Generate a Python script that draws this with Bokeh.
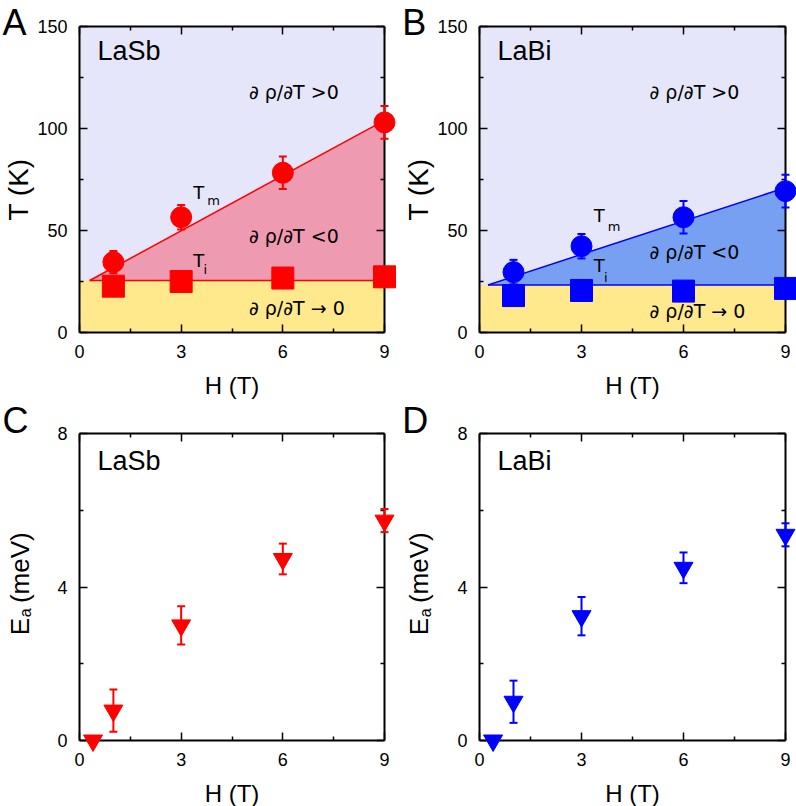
import math
from bokeh.plotting import figure
from bokeh.models import (ColumnDataSource, Range1d, FixedTicker, LinearAxis, Label,
                          Whisker, TeeHead)
from bokeh.layouts import column, row
from bokeh.embed import file_html
from bokeh.resources import INLINE

# ---------------- data ----------------
H_LIM = [0, 9]
T_LIM = [0, 150]
E_LIM = [0, 8]
H_TICKS = [0, 3, 6, 9]
H_MINOR = [1.5, 4.5, 7.5]
T_TICKS = [0, 50, 100, 150]
T_MINOR = [25, 75, 125]
E_TICKS = [0, 4, 8]
E_MINOR = [2, 6]

H = [1, 3, 6, 9]
lasb_tm = [34.5, 56.5, 78.3, 103]
lasb_tm_err = [5.5, 6, 8, 8]
lasb_ti = [22.7, 25.0, 26.7, 27.3]
labi_tm = [29.6, 42.3, 56.5, 69.3]
labi_tm_err = [6, 6, 8, 8]
labi_ti = [18.1, 20.6, 20.3, 21.6]

lasb_bound_h = [0.3, 9]
lasb_bound_tm = [25.5, 104]
lasb_bound_ti = 25.5
labi_bound_h = [0.25, 9]
labi_bound_tm = [23.3, 71]
labi_bound_ti = 23.3

H_ea = [0.4, 1, 3, 6, 9]
lasb_ea = [0, 0.78, 3.0, 4.73, 5.73]
lasb_ea_err = [0, 0.55, 0.5, 0.4, 0.3]
labi_ea = [0, 1.01, 3.24, 4.5, 5.36]
labi_ea_err = [0, 0.55, 0.5, 0.4, 0.3]

LAVENDER = "#E6E6FA"
YELLOW = "#FFE98C"
PINK = "#EE9AB0"
LBLUE = "#78A0F2"
RED = "#FF0000"
BLUE = "#0000FF"

SANS = "Liberation Sans"
DV = "DejaVu Sans"


def style_axis(ax, ticks, show):
    ax.axis_line_color = "black"
    ax.axis_line_width = 2
    ax.major_tick_line_color = "black"
    ax.major_tick_line_width = 1.5
    ax.minor_tick_line_color = "black"
    ax.minor_tick_line_width = 1.5
    ax.major_tick_in = 8
    ax.major_tick_out = 0
    ax.minor_tick_in = 4
    ax.minor_tick_out = 0
    ax.major_label_text_font = SANS
    ax.major_label_text_font_size = "18px"
    ax.major_label_text_color = "black"
    ax.major_label_standoff = 12
    if not show:
        ax.major_label_overrides = {float(t): "" for t in ticks}


def base_fig(cw, ch, left, right, top, bottom, ylim, yticks, yminor):
    # frame of the data box in canvas pixels -> ranges that cover the whole canvas
    kx = (cw - left - right) / (H_LIM[1] - H_LIM[0])
    ky = (ch - top - bottom) / (ylim[1] - ylim[0])
    xr = Range1d(H_LIM[0] - left / kx, H_LIM[1] + right / kx)
    yr = Range1d(ylim[0] - bottom / ky, ylim[1] + top / ky)
    p = figure(frame_width=cw, frame_height=ch, x_range=xr, y_range=yr,
               x_axis_type=None, y_axis_type=None, output_backend="svg",
               toolbar_location=None, min_border=0)
    p.background_fill_color = "white"
    p.border_fill_color = "white"
    p.outline_line_color = None
    for loc, fixed, show in (("below", ylim[0], True), ("above", ylim[1], False)):
        ax = LinearAxis(ticker=FixedTicker(ticks=H_TICKS, minor_ticks=H_MINOR),
                        fixed_location=fixed, bounds=(H_LIM[0], H_LIM[1]))
        style_axis(ax, H_TICKS, show)
        p.add_layout(ax, loc)
    for loc, fixed, show in (("left", H_LIM[0], True), ("right", H_LIM[1], False)):
        ax = LinearAxis(ticker=FixedTicker(ticks=yticks, minor_ticks=yminor),
                        fixed_location=fixed, bounds=(ylim[0], ylim[1]))
        style_axis(ax, yticks, show)
        p.add_layout(ax, loc)
    return p


def lab(p, x, y, text, size, font=SANS, align="left", angle=0.0):
    p.add_layout(Label(x=x, y=y, text=text, text_font=font, text_font_size=f"{size}px",
                       text_align=align, text_baseline="middle", angle=angle,
                       text_color="black"))


def whisk(p, xs, vals, errs, color):
    src = ColumnDataSource(dict(x=xs, upper=[v + e for v, e in zip(vals, errs)],
                                lower=[v - e for v, e in zip(vals, errs)]))
    w = Whisker(source=src, base="x", upper="upper", lower="lower", line_color=color,
                line_width=2, level="overlay",
                upper_head=TeeHead(size=8, line_color=color, line_width=2),
                lower_head=TeeHead(size=8, line_color=color, line_width=2))
    p.add_layout(w)


def phase_panel(cw, left, right, letter, name, tm, tm_err, ti, bh, btm, bti, fill, color, txt):
    p = base_fig(cw, 400, left, right, 26, 68, T_LIM, T_TICKS, T_MINOR)
    p.quad(left=H_LIM[0], right=H_LIM[1], bottom=T_LIM[0], top=T_LIM[1],
           fill_color=LAVENDER, line_color=None)
    p.quad(left=H_LIM[0], right=H_LIM[1], bottom=T_LIM[0], top=bti,
           fill_color=YELLOW, line_color=None)
    p.patch(x=bh + [bh[-1]], y=btm + [bti], fill_color=fill, line_color=None)
    p.line(x=bh, y=btm, line_color=color, line_width=1.5)
    p.line(x=bh, y=[bti, bti], line_color=color, line_width=1.5)
    whisk(p, H, tm, tm_err, color)
    r1 = p.scatter(x=H, y=tm, size=21, marker="circle", fill_color=color, line_color=color)
    r2 = p.scatter(x=H, y=ti, size=22, marker="square", fill_color=color, line_color=color)
    r1.level = "overlay"
    r2.level = "overlay"
    # texts
    lab(p, -2.27, 151.8, letter, 36)
    lab(p, 0.53, 138.0, name, 27)
    lab(p, -1.79, 54.9, "T (K)", 28, angle=math.pi / 2)
    lab(p, 4.5, -25.8, "H (T)", 24, align="center")
    lab(p, 5.0, txt[0], "\u2202 \u03c1/\u2202T >0", 19, font=DV)
    lab(p, 5.0, txt[1], "\u2202 \u03c1/\u2202T <0", 19, font=DV)
    lab(p, 5.0, txt[2], "\u2202 \u03c1/\u2202T \u2192 0", 19, font=DV)
    lab(p, 3.36, txt[3], "T", 18, font=DV)
    lab(p, 3.77, txt[4], "m", 13, font=DV)
    lab(p, 3.36, txt[5], "T", 18, font=DV)
    lab(p, 3.66, txt[6], "i", 13, font=DV)
    return p


def ea_panel(cw, left, right, letter, name, ea, err, color):
    p = base_fig(cw, 406, left, right, 33, 66, E_LIM, E_TICKS, E_MINOR)
    whisk(p, H_ea[1:], ea[1:], err[1:], color)
    r = p.scatter(x=H_ea, y=ea, size=19, marker="inverted_triangle", fill_color=color,
                  line_color=color)
    r.level = "overlay"
    lab(p, -2.27, 8.33, letter, 36)
    lab(p, 0.53, 7.28, name, 27)
    lab(p, -1.77, 2.74, "E", 26, angle=math.pi / 2)
    lab(p, -1.58, 3.21, "a", 16, angle=math.pi / 2)
    lab(p, -1.77, 3.58, "(meV)", 26, angle=math.pi / 2)
    lab(p, 4.5, -1.37, "H (T)", 24, align="center")
    return p


pA = phase_panel(400, 79, 16, "A", "LaSb", lasb_tm, lasb_tm_err, lasb_ti,
                 lasb_bound_h, lasb_bound_tm, lasb_bound_ti, PINK, RED,
                 [117.9, 47.5, 12.0, 68.7, 64.8, 35.1, 31.1])
pB = phase_panel(396, 79, 11, "B", "LaBi", labi_tm, labi_tm_err, labi_ti,
                 labi_bound_h, labi_bound_tm, labi_bound_ti, LBLUE, BLUE,
                 [117.9, 39.5, 10.3, 57.2, 52.2, 32.6, 26.9])
pC = ea_panel(400, 79, 16, "C", "LaSb", lasb_ea, lasb_ea_err, RED)
pD = ea_panel(396, 79, 11, "D", "LaBi", labi_ea, labi_ea_err, BLUE)

layout = column(row(pA, pB), row(pC, pD))
open("out.html", "w").write(file_html(layout, INLINE))
